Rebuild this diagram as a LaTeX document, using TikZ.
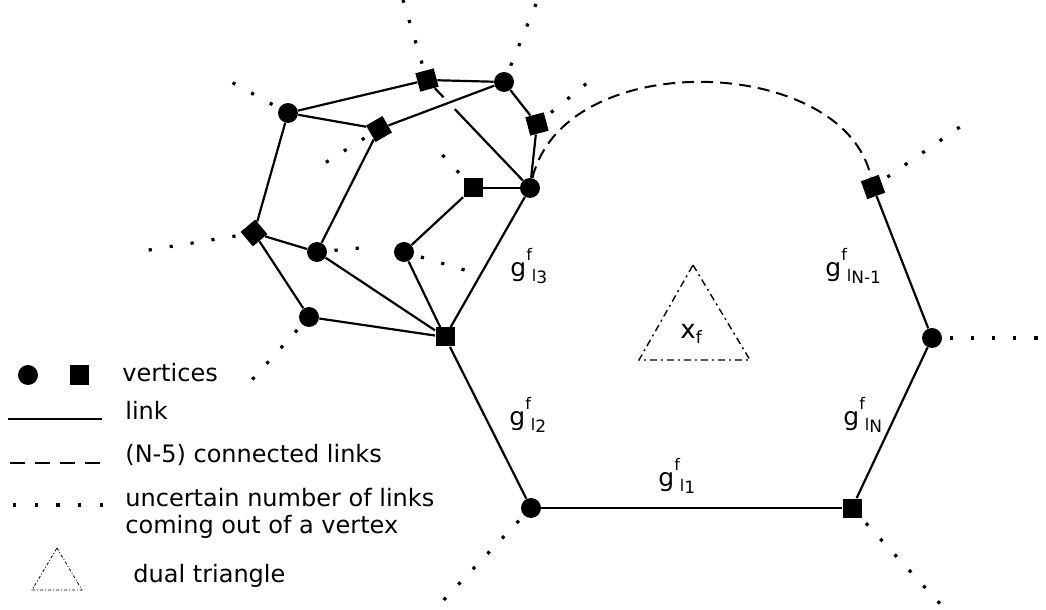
\documentclass[tikz,border=0pt]{standalone}
\usepackage{fontspec}
\setmainfont{DejaVu Sans}
\usetikzlibrary{calc}

\newcommand{\glab}[1]{\fontsize{12.5}{14}\selectfont g\raisebox{8pt}{\fontsize{8}{8}\selectfont f}\raisebox{-2.5pt}{\fontsize{8}{8}\selectfont l\raisebox{-1pt}{\fontsize{8.5}{8}\selectfont #1}}}

\begin{document}
\begin{tikzpicture}[auto, x=0.5pt, y=-0.5pt]
		\tikzstyle{round} = [draw=none, fill=black, circle, inner sep=0pt, minimum size=10pt]
		\tikzstyle{box} = [draw=none, fill=black, rectangle, inner sep=0pt, minimum size=9.5pt]
		\tikzstyle{link} = [line width=1.1pt]
		\tikzstyle{dots} = [line width=1.6pt, dash pattern=on 1.6pt off 9pt, dash phase=7pt]
		\tikzstyle{conn} = [line width=1pt, dash pattern=on 6pt off 3.5pt]
		\tikzstyle{dual} = [line width=0.7pt, dash pattern=on 3.5pt off 2pt on 1pt off 2pt]
		\tikzstyle{lab} = [inner sep=0pt, anchor=base west]
		\tikzstyle{legend} = [inner sep=0pt, anchor=base west, font=\fontsize{12}{14}\selectfont]
		
		\useasboundingbox (0, 0) rectangle (1046, 610);
		
		\node[round] 			at (288, 113)	(A) 	{};
		\node[box, rotate=15] 	at (427, 80)	(B) 	{};
		\node[round] 			at (504, 82)	(C) 	{};
		\node[box, rotate=30] 	at (379, 129)	(D) 	{};
		\node[box, rotate=15] 	at (537, 124)	(E) 	{};
		\node[round] 			at (530, 188)	(F) 	{};
		\node[box] 				at (473, 188)	(G) 	{};
		\node[box, rotate=40] 	at (254, 233)	(H) 	{};
		\node[round] 			at (317, 252)	(I) 	{};
		\node[round] 			at (404, 252)	(J) 	{};
		\node[round] 			at (309, 317)	(K) 	{};
		\node[box] 				at (445, 337)	(L) 	{};
		\node[box, rotate=20] 	at (873, 187)	(M) 	{};
		\node[round] 			at (932, 338)	(N) 	{};
		\node[box] 				at (852, 508)	(O) 	{};
		\node[round] 			at (531, 508)	(P) 	{};
		
		\coordinate (bOut) at (403, 0);
		\coordinate (cOut) at (536, 4);
		\coordinate (aOut) at (224, 78);
		\coordinate (dOut) at (317, 168);
		\coordinate (eOut) at (598, 74);
		\coordinate (gOut) at (436, 148);
		\coordinate (hOut) at (143, 251);
		\coordinate (iOut) at (370, 247);
		\coordinate (jOut) at (468, 271);
		\coordinate (kOut) at (250, 382);
		\coordinate (mOut) at (967, 122);
		\coordinate (nOut) at (1046, 338);
		\coordinate (oOut) at (944, 608);
		\coordinate (pOut) at (436, 608);
		
		\path[link]
		(A) edge (B)
		(B) edge (C)
		(A) edge (D)
		(D) edge (C)
		(A) edge (H)
		(D) edge (I)
		(H) edge (I)
		(H) edge (K)
		(I) edge (L)
		(K) edge (L)
		(J) edge (L)
		(J) edge (G)
		(G) edge (F)
		(F) edge (L)
		(C) edge (E)
		(E) edge (F)
		(L) edge (P)
		(P) edge (O)
		(O) edge (N)
		(N) edge (M);
		\draw[link] (B) -- ($(B)!0.16!(F)$);
		\draw[link] ($(B)!0.27!(F)$) -- (F);
		
		\draw[conn] (F) .. controls (565, 45) and (845, 55) .. (M);
		
		\path[dots]
		(B) edge (bOut)
		(C) edge (cOut)
		(A) edge (aOut)
		(D) edge (dOut)
		(E) edge (eOut)
		(G) edge (gOut)
		(H) edge (hOut)
		(I) edge (iOut)
		(J) edge (jOut)
		(K) edge (kOut)
		(M) edge (mOut)
		(N) edge (nOut)
		(O) edge (oOut)
		(P) edge (pOut);
		
		\node[lab] at (510, 277) (g3) {\glab{3}};
		\node[lab] at (825, 277) (gN1) {\glab{N-1}};
		\node[lab] at (843, 425) (gN) {\glab{N}};
		\node[lab] at (509, 425) (g2) {\glab{2}};
		\node[lab] at (658, 486) (g1) {\glab{1}};
		\node[lab] at (680, 338) (xf) {\fontsize{13}{15}\selectfont x\raisebox{-2.5pt}{\fontsize{8.5}{9}\selectfont f}};
		
		\coordinate (tTop) at (693, 265);
		\coordinate (tLeft) at (639, 360);
		\coordinate (tRight) at (750, 360);
		\draw[dual] (tTop) -- (tRight) -- (tLeft) -- cycle;
		
		\node[round] at (28, 375) (legRound) {};
		\node[box] at (79, 375) (legBox) {};
		\node[legend] at (122, 381) (legVert) {vertices};
		
		\coordinate (linkA) at (8, 419);
		\coordinate (linkB) at (102, 419);
		\draw[link] (linkA) -- (linkB);
		\node[legend] at (125, 419) (legLink) {link};
		
		\coordinate (connA) at (10, 463);
		\coordinate (connB) at (102, 463);
		\draw[conn, dash pattern=on 7.5pt off 5pt] (connA) -- (connB);
		\node[legend] at (125, 462) (legConn) {(N-5) connected links};
		
		\coordinate (dotsA) at (13, 505);
		\coordinate (dotsB) at (104, 505);
		\draw[dots, dash pattern=on 1.6pt off 9.25pt, dash phase=0pt] (dotsA) -- (dotsB);
		\node[legend] at (125, 506) (legDots) {uncertain number of links};
		\node[legend] at (125, 533) (legDots2) {coming out of a vertex};
		
		\coordinate (lTop) at (57, 548);
		\coordinate (lLeft) at (32, 590);
		\coordinate (lRight) at (82, 590);
		\draw[dual, line width=0.4pt, dash pattern=on 1.5pt off 1pt on 0.5pt off 1pt] (lTop) -- (lRight) -- (lLeft) -- cycle;
		\node[legend] at (133, 582) (legDual) {dual triangle};
	\end{tikzpicture}
\end{document}
